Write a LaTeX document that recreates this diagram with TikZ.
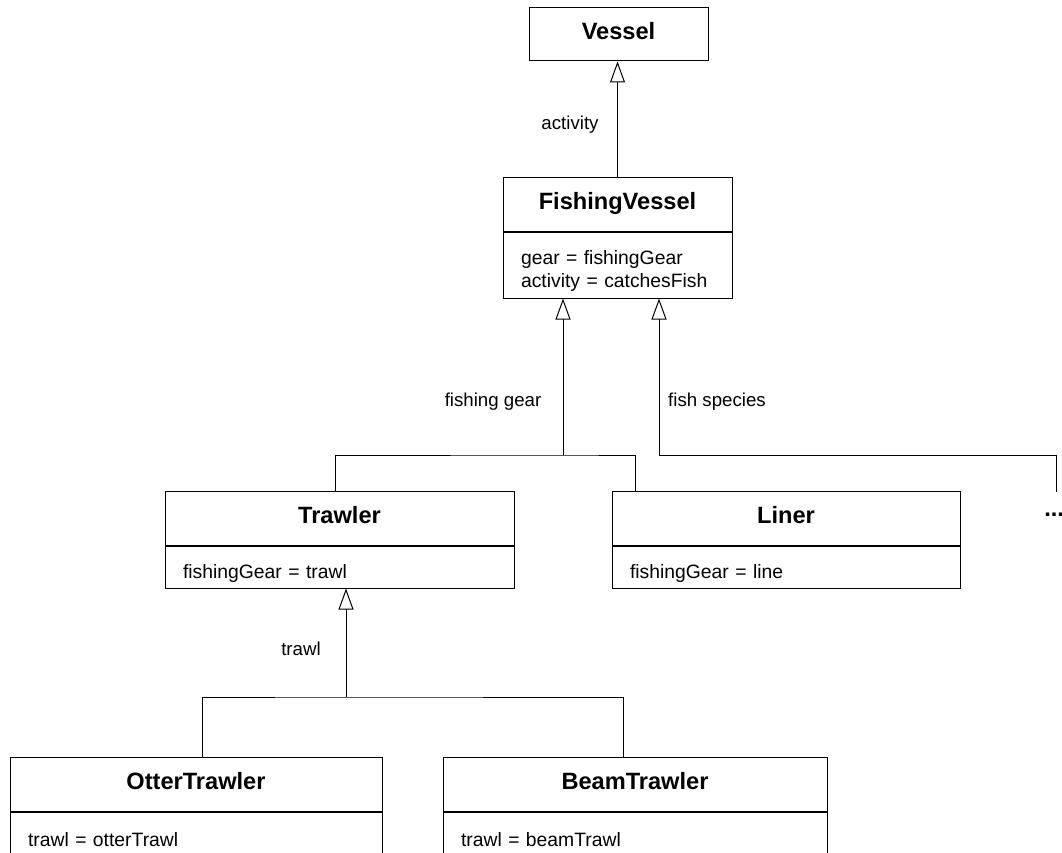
\documentclass[tikz,border=0pt]{standalone}
\usepackage{fontspec}
\setmainfont{Liberation Sans}
\usepackage{tikz}
\usetikzlibrary{arrows.meta,positioning}

\newcommand{\pxu}{0.75pt}

\begin{document}
\begin{tikzpicture}[x=\pxu, y=-\pxu,
    classname/.style={draw, line width=\pxu, inner sep=0pt,
        font=\fontsize{17.7}{20}\selectfont\bfseries,
        execute at begin node={\rule[-5pt]{0pt}{0pt}}},
    classattr/.style={draw, line width=\pxu, inner xsep=18*\pxu, inner ysep=0pt,
        text width=#1*\pxu-36*\pxu, align=left,
        font=\fontsize{14.5}{17.3}\selectfont,
        execute at begin node={\rule{0pt}{20pt}}},
    gen/.style={-{Triangle[open, length=21*\pxu, width=15*\pxu, fill=white]}, line width=\pxu},
    link/.style={line width=\pxu},
    lbl/.style={font=\fontsize{14}{16}\selectfont}]
    \useasboundingbox (0,0) rectangle (1062,852);

    % Top class
    \node[classname, minimum width=179*\pxu, minimum height=53*\pxu] (vessel) at (618.5,34.5) {Vessel};

    % Fishing vessel
    \node[classname, minimum width=229*\pxu, minimum height=53*\pxu] (fv) at (617.5,204.5) {FishingVessel};
    \node[classattr=229, minimum height=66*\pxu, below=0pt of fv] (fvattr)
        {gear = fishingGear\\activity = catchesFish};

    % Gear subclasses
    \node[classname, minimum width=349*\pxu, minimum height=54*\pxu] (trawler) at (339.5,518) {Trawler};
    \node[classattr=349, minimum height=42*\pxu, below=0pt of trawler] (trawlerattr) {fishingGear = trawl};
    \node[classname, minimum width=348*\pxu, minimum height=54*\pxu] (liner) at (786,518) {Liner};
    \node[classattr=348, minimum height=42*\pxu, below=0pt of liner] (linerattr) {fishingGear = line};
    \node[font=\fontsize{17.7}{20}\selectfont\bfseries, anchor=west, inner sep=0pt] (more) at (1044,515) {...};

    % Trawl subclasses
    \node[classname, minimum width=372*\pxu, minimum height=54*\pxu] (otter) at (196,784) {OtterTrawler};
    \node[classattr=372, minimum height=42*\pxu, below=0pt of otter] (otterattr) {trawl = otterTrawl};
    \node[classname, minimum width=384*\pxu, minimum height=54*\pxu] (beam) at (635,784) {BeamTrawler};
    \node[classattr=384, minimum height=42*\pxu, below=0pt of beam] (beamattr) {trawl = beamTrawl};

    % Generalisation: activity
    \draw[gen] (fv.north) -- (fv.north |- vessel.south);
    \node[lbl] (lblactivity) at (570,125) {activity};

    % Generalisation: fishing gear
    \coordinate (gearfork) at (563,455);
    \draw[gen] (gearfork) -- (gearfork |- fvattr.south);
    \draw[link] ([xshift=-4.5*\pxu]trawler.north) |- (gearfork) -| ([xshift=-151*\pxu]liner.north);
    \node[lbl] (lblgear) at (493,402) {fishing gear};

    % Generalisation: fish species
    \coordinate (speciesfork) at (659,455);
    \coordinate (morein) at (1056,492);
    \draw[gen] (speciesfork) -- (speciesfork |- fvattr.south);
    \draw[link] (speciesfork) -| (morein);
    \node[lbl] (lblspecies) at (717,402) {fish species};

    % Generalisation: trawl
    \coordinate (trawlfork) at (346,697);
    \draw[gen] (trawlfork) -- (trawlfork |- trawlerattr.south);
    \draw[link] ([xshift=6*\pxu]otter.north) |- (trawlfork) -| ([xshift=-12*\pxu]beam.north);
    \node[lbl] (lbltrawl) at (301,649) {trawl};
\end{tikzpicture}
\end{document}
